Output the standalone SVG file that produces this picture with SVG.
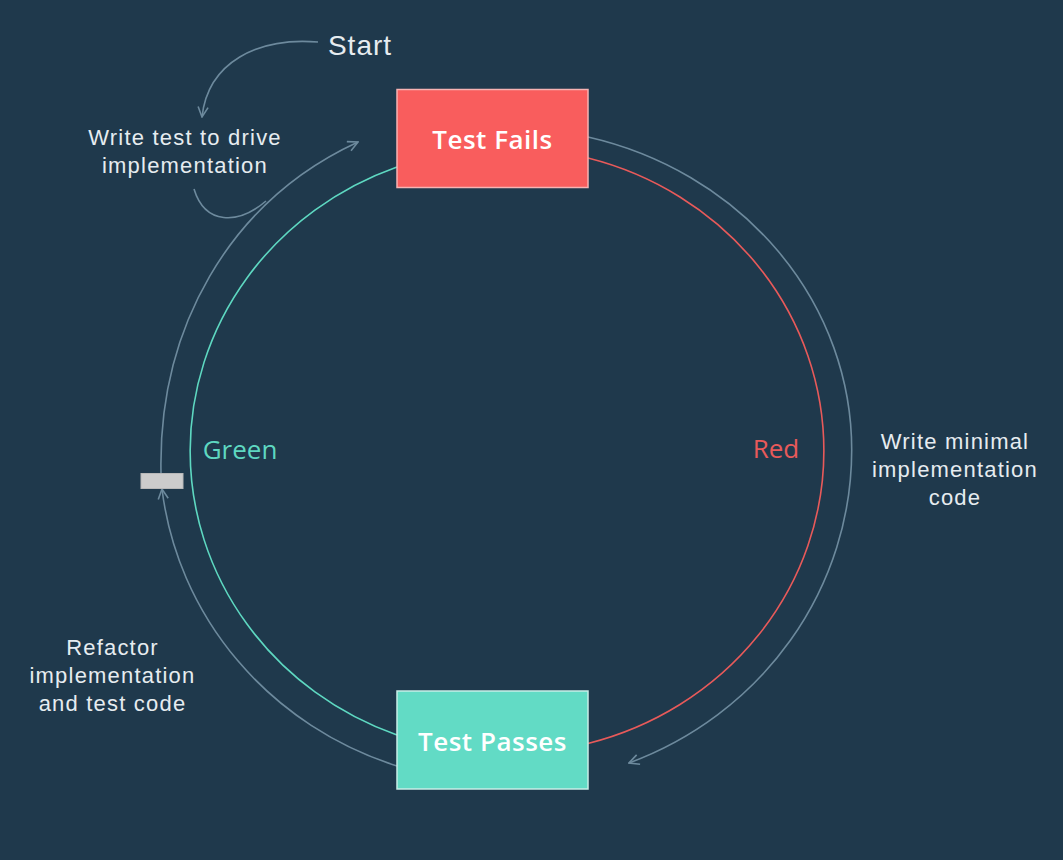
<svg xmlns="http://www.w3.org/2000/svg" width="1063" height="860" viewBox="0 0 1063 860">
<defs>
<style>
.bg{fill:#1f394c}
.conn{fill:none;stroke:#6d8a9d;stroke-width:1.6}
.red{fill:none;stroke:#e85a5a;stroke-width:1.6}
.green{fill:none;stroke:#5ed8c1;stroke-width:1.6}
.lbl{font-family:"Liberation Sans",Arial,sans-serif;font-size:22px;fill:#e6ecf0;letter-spacing:1.2px;text-anchor:middle}
.title{font-family:"Open Sans","Noto Sans",sans-serif;font-size:26px;font-weight:600;fill:#ffffff;text-anchor:middle;letter-spacing:0.5px}
.phase{font-family:"Open Sans","Noto Sans",sans-serif;font-size:26px;text-anchor:middle}
</style>
<marker id="arr" viewBox="0 0 12 12" refX="11" refY="6" markerWidth="12" markerHeight="12" markerUnits="userSpaceOnUse" orient="auto">
<path d="M1,1 L11,6 L1,11" fill="none" stroke="#6d8a9d" stroke-width="1.6"/>
</marker>
</defs>
<rect class="bg" x="0" y="0" width="1063" height="860"/>

<g id="connectors">
<path id="red-arc" class="red" d="M588,158 A316.3,302.7 0 0 1 588,743.5"/>
<path id="green-arc" class="green" d="M397,167 A316.3,302.7 0 0 0 397,735"/>
<path id="write-minimal" class="conn" d="M588,137 A345.7,322 0 0 1 851.7,450 A345.7,335 0 0 1 629,763" marker-end="url(#arr)"/>
<path id="refactor" class="conn" d="M397,766 A345,333 0 0 1 162,489" marker-end="url(#arr)"/>
<path id="to-fails" class="conn" d="M161,473 C158,330 228,202 358,142" marker-end="url(#arr)"/>
<path id="write-test" class="conn" d="M194,189 C205,225 238,225 266,201"/>
<path id="start" class="conn" d="M318,42 C258,37 208,62 202,117" marker-end="url(#arr)"/>
</g>

<g id="node-test-fails">
<rect x="397" y="89.5" width="191" height="98" fill="#f95d5d" stroke="#f7b3b3" stroke-width="1.5"/>
<text class="title" x="492.5" y="149">Test Fails</text>
</g>
<g id="node-test-passes">
<rect x="397" y="691" width="191" height="98" fill="#62dbc5" stroke="#c8eee7" stroke-width="1.5"/>
<text class="title" x="492.5" y="751">Test Passes</text>
</g>
<g id="node-gray">
<rect x="141" y="473.5" width="42" height="15" fill="#cccccc" stroke="#b8b8b8" stroke-width="1"/>
</g>

<g id="label-start"><text class="lbl" x="360" y="55" style="font-size:28px;letter-spacing:1px">Start</text></g>
<g id="label-write-test">
<text class="lbl" x="185" y="145">Write test to drive</text>
<text class="lbl" x="185" y="173">implementation</text>
</g>
<g id="label-write-minimal">
<text class="lbl" x="955" y="449">Write minimal</text>
<text class="lbl" x="955" y="477">implementation</text>
<text class="lbl" x="955" y="505">code</text>
</g>
<g id="label-refactor">
<text class="lbl" x="112.5" y="655">Refactor</text>
<text class="lbl" x="112.5" y="683">implementation</text>
<text class="lbl" x="112.5" y="711">and test code</text>
</g>
<g id="label-green"><text class="phase" x="240" y="459" fill="#5ed8c1">Green</text></g>
<g id="label-red"><text class="phase" x="776" y="458" fill="#e85a5a">Red</text></g>
</svg>
